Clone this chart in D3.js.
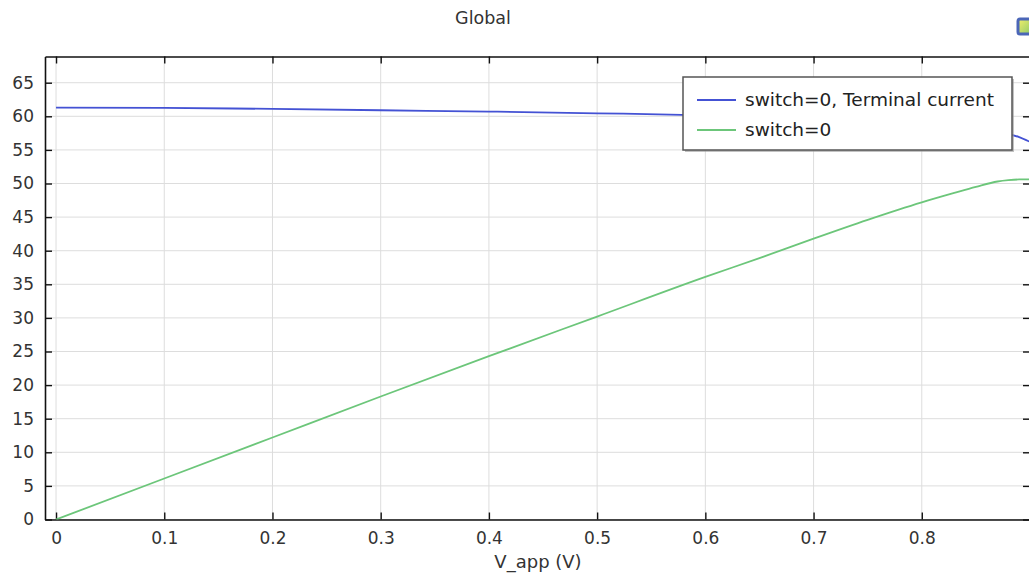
<!DOCTYPE html>
<html>
<head>
<meta charset="utf-8">
<script src="https://cdn.jsdelivr.net/npm/d3@7"></script>
<style>
  html, body { margin: 0; padding: 0; background: #fff; }
  svg { display: block; font-family: "DejaVu Sans", Verdana, sans-serif; }
</style>
</head>
<body>
<svg id="chart" width="1029" height="575"></svg>
<script>
// Applied voltage sweep (V)
const vApp = [0, 0.1, 0.2, 0.3, 0.4, 0.5, 0.6, 0.65, 0.7, 0.75, 0.8, 0.83, 0.85, 0.87, 0.88, 0.89, 0.9];
// Terminal current
const terminalCurrent = [61.3, 61.25, 61.1, 60.9, 60.7, 60.45, 60.15, 59.95, 59.7, 59.4, 59.0, 58.6, 58.2, 57.8, 57.4, 56.9, 56.2];
// Second global expression
const switchPower = [0, 6.1, 12.2, 18.3, 24.3, 30.2, 36.1, 38.9, 41.8, 44.6, 47.2, 48.6, 49.5, 50.3, 50.5, 50.6, 50.6];

const xTicks = [0, 0.1, 0.2, 0.3, 0.4, 0.5, 0.6, 0.7, 0.8];
const yTicks = [0, 5, 10, 15, 20, 25, 30, 35, 40, 45, 50, 55, 60, 65];
const seriesNames = ["switch=0, Terminal current", "switch=0"];
const seriesColors = ["#4452d4", "#6cc67a"];

const svg = d3.select("#chart");
const plotL = 45, plotR = 1030, plotT = 56.5, plotB = 519.5;

const x = d3.scaleLinear().domain([-0.0102, 0.9]).range([plotL, plotR]);
const y = d3.scaleLinear().domain([0, 68.9]).range([plotB, plotT]);

// Title
svg.append("text").attr("x", 483).attr("y", 24).attr("text-anchor", "middle")
  .attr("font-size", 17.5).attr("fill", "#333").text("Global");

// Small toolbar glyph in the corner
const grad = svg.append("defs").append("linearGradient").attr("id", "ico")
  .attr("x1", 0).attr("y1", 0).attr("x2", 1).attr("y2", 1);
grad.append("stop").attr("offset", "0%").attr("stop-color", "#f4f06a");
grad.append("stop").attr("offset", "100%").attr("stop-color", "#8cc86a");
svg.append("rect").attr("x", 1018).attr("y", 19).attr("width", 14).attr("height", 15)
  .attr("rx", 2).attr("fill", "url(#ico)").attr("stroke", "#4b66b8").attr("stroke-width", 3);

// Grid
const grid = svg.append("g").attr("stroke", "#dddddd").attr("stroke-width", 1);
grid.selectAll("line.v").data(xTicks).join("line").attr("class", "v")
  .attr("x1", d => x(d)).attr("x2", d => x(d)).attr("y1", plotT).attr("y2", plotB);
grid.selectAll("line.h").data(yTicks).join("line").attr("class", "h")
  .attr("x1", plotL).attr("x2", plotR).attr("y1", d => y(d)).attr("y2", d => y(d));

// Axes with inward ticks
const tickFmt = d3.format("");
const axisStyle = g => {
  g.select(".domain").attr("stroke", "#111").attr("stroke-width", 1.6);
  g.selectAll(".tick line").attr("stroke", "#111").attr("stroke-width", 1.4);
  g.selectAll(".tick text").attr("fill", "#333").attr("font-size", 17)
    .attr("font-family", "'DejaVu Sans', Verdana, sans-serif");
};
svg.append("g").attr("transform", `translate(0,${plotB})`)
  .call(d3.axisBottom(x).tickValues(xTicks).tickFormat(tickFmt).tickSizeInner(-7).tickSizeOuter(0).tickPadding(12))
  .call(axisStyle);
svg.append("g").attr("transform", `translate(0,${plotT})`)
  .call(d3.axisTop(x).tickValues(xTicks).tickFormat("").tickSizeInner(-7).tickSizeOuter(0))
  .call(axisStyle);
svg.append("g").attr("transform", `translate(${plotL},0)`)
  .call(d3.axisLeft(y).tickValues(yTicks).tickFormat(tickFmt).tickSizeInner(-7).tickSizeOuter(0).tickPadding(11))
  .call(axisStyle);
svg.append("g").attr("transform", `translate(${plotR},0)`)
  .call(d3.axisRight(y).tickValues(yTicks).tickFormat("").tickSizeInner(-7).tickSizeOuter(0))
  .call(axisStyle);

// Axis label
svg.append("text").attr("x", 538).attr("y", 568).attr("text-anchor", "middle")
  .attr("font-size", 18).attr("fill", "#333").text("V_app (V)");

// Curves
svg.append("clipPath").attr("id", "plotclip").append("rect")
  .attr("x", plotL).attr("y", plotT).attr("width", plotR - plotL).attr("height", plotB - plotT);
const line = d3.line().x(d => x(d[0])).y(d => y(d[1])).curve(d3.curveMonotoneX);
[terminalCurrent, switchPower].forEach((vals, i) => {
  svg.append("path").datum(vApp.map((v, k) => [v, vals[k]]))
    .attr("clip-path", "url(#plotclip)")
    .attr("fill", "none").attr("stroke", seriesColors[i]).attr("stroke-width", 1.8)
    .attr("d", line);
});

// Legend
const lg = svg.append("g");
const lx = 683, ly = 77, lw = 329, lh = 73;
lg.append("rect").attr("x", lx + 2).attr("y", ly + 2).attr("width", lw).attr("height", lh)
  .attr("fill", "#9a9a9a").attr("opacity", 0.6);
lg.append("rect").attr("x", lx).attr("y", ly).attr("width", lw).attr("height", lh)
  .attr("fill", "#fff").attr("stroke", "#555").attr("stroke-width", 1.5);
seriesNames.forEach((name, i) => {
  const yy = ly + 23 + i * 30;
  lg.append("line").attr("x1", lx + 14).attr("x2", lx + 53).attr("y1", yy).attr("y2", yy)
    .attr("stroke", seriesColors[i]).attr("stroke-width", 2);
  lg.append("text").attr("x", lx + 62).attr("y", yy + 6).attr("font-size", 18.5)
    .attr("fill", "#222").text(name);
});
</script>
</body>
</html>
